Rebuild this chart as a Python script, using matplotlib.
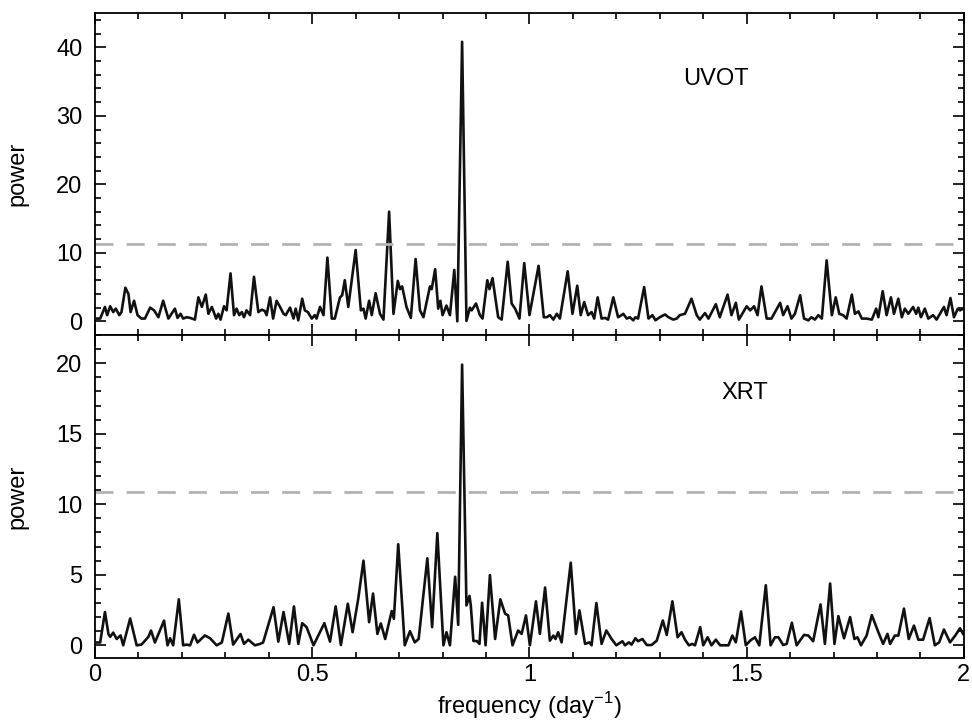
import numpy as np
import matplotlib
matplotlib.use('Agg')
import matplotlib.pyplot as plt

plt.rcParams['font.family'] = ['Liberation Sans', 'DejaVu Sans']
plt.rcParams['mathtext.fontset'] = 'custom'
plt.rcParams['mathtext.rm'] = 'Liberation Sans'

# UVOT periodogram (frequency in 1/day, power)
uvot_freq = [0.005, 0.012, 0.023, 0.028, 0.035, 0.042, 0.048, 0.056, 0.061, 0.070, 0.077, 0.082, 0.090, 0.098,
             0.107, 0.115, 0.127, 0.136, 0.146, 0.157, 0.169, 0.184, 0.190, 0.197, 0.203, 0.211, 0.219, 0.230,
             0.238, 0.246, 0.255, 0.261, 0.269, 0.279, 0.284, 0.289, 0.297, 0.303, 0.312, 0.320, 0.326, 0.332,
             0.338, 0.343, 0.349, 0.357, 0.366, 0.376, 0.384, 0.391, 0.395, 0.403, 0.410, 0.418, 0.426, 0.434,
             0.439, 0.449, 0.457, 0.462, 0.468, 0.477, 0.483, 0.490, 0.499, 0.506, 0.510, 0.518, 0.526, 0.535,
             0.545, 0.552, 0.564, 0.569, 0.575, 0.583, 0.600, 0.612, 0.618, 0.623, 0.631, 0.637, 0.646, 0.656,
             0.664, 0.677, 0.687, 0.697, 0.702, 0.707, 0.717, 0.727, 0.738, 0.748, 0.756, 0.771, 0.775, 0.783,
             0.790, 0.795, 0.800, 0.809, 0.817, 0.827, 0.834, 0.845, 0.855, 0.863, 0.867, 0.877, 0.886, 0.892,
             0.903, 0.908, 0.915, 0.928, 0.936, 0.950, 0.959, 0.967, 0.977, 0.988, 1.000, 1.021, 1.033, 1.040,
             1.047, 1.055, 1.063, 1.070, 1.088, 1.099, 1.110, 1.118, 1.126, 1.135, 1.143, 1.149, 1.157, 1.166,
             1.174, 1.181, 1.193, 1.204, 1.212, 1.216, 1.224, 1.231, 1.239, 1.244, 1.250, 1.264, 1.274, 1.283,
             1.290, 1.300, 1.312, 1.320, 1.331, 1.339, 1.346, 1.358, 1.373, 1.385, 1.392, 1.404, 1.412, 1.429,
             1.438, 1.456, 1.465, 1.475, 1.482, 1.500, 1.508, 1.517, 1.525, 1.534, 1.546, 1.557, 1.577, 1.584,
             1.594, 1.603, 1.611, 1.623, 1.632, 1.642, 1.649, 1.657, 1.665, 1.673, 1.684, 1.696, 1.705, 1.713,
             1.722, 1.730, 1.742, 1.749, 1.757, 1.765, 1.776, 1.788, 1.798, 1.803, 1.813, 1.822, 1.832, 1.839,
             1.849, 1.857, 1.864, 1.872, 1.883, 1.890, 1.895, 1.901, 1.910, 1.918, 1.929, 1.937, 1.954, 1.960,
             1.969, 1.977, 1.986, 1.991, 1.998]
uvot_power = [0.4, 0.4, 2.1, 0.9, 2.2, 1.35, 1.85, 0.9, 1.35, 4.9, 4.0, 1.35, 3.0, 0.9,
              0.4, 0.4, 2.0, 1.6, 0.6, 3.0, 0.4, 1.85, 0.5, 1.1, 0.4, 0.6, 0.5, 0.25,
              3.5, 2.1, 3.9, 1.1, 2.1, 0.4, 1.1, 0.25, 2.2, 1.6, 7.0, 0.9, 1.85, 0.9,
              1.35, 0.6, 1.6, 0.9, 6.5, 1.35, 1.7, 1.5, 0.9, 3.5, 0.4, 3.0, 2.1, 1.1,
              0.9, 2.0, 0.4, 1.85, 0.15, 3.3, 1.6, 1.35, 0.4, 0.9, 0.4, 2.1, 0.9, 9.3,
              0.4, 0.4, 3.5, 3.8, 6.0, 2.1, 10.4, 1.6, 1.85, 0.4, 3.0, 0.9, 4.1, 1.1,
              0.25, 16.0, 1.1, 5.9, 4.7, 5.1, 2.1, 0.5, 9.1, 1.6, 0.6, 5.1, 4.7, 7.6,
              1.85, 3.0, 0.9, 2.3, 0.9, 7.5, 0.0, 40.8, 0.05, 2.0, 1.6, 2.6, 0.9, 0.4,
              6.0, 4.7, 6.3, 0.6, 0.25, 8.7, 2.6, 1.85, 0.4, 8.5, 0.9, 8.1, 0.6, 0.6,
              0.9, 0.25, 1.1, 0.4, 7.3, 1.1, 5.2, 0.9, 2.8, 0.9, 1.35, 0.4, 3.5, 0.4,
              0.5, 0.25, 3.5, 0.6, 0.9, 1.1, 0.4, 0.6, 0.15, 0.6, 0.4, 5.0, 0.4, 0.9,
              0.15, 0.6, 1.0, 0.6, 0.25, 0.4, 0.9, 1.1, 3.3, 0.9, 0.25, 1.2, 0.4, 2.5,
              0.6, 3.9, 0.9, 2.7, 0.25, 2.2, 1.6, 2.2, 0.9, 5.1, 0.4, 0.4, 2.7, 0.9,
              2.2, 0.4, 1.1, 3.8, 0.4, 0.15, 0.6, 0.25, 0.9, 0.4, 8.9, 0.9, 3.5, 1.1,
              0.9, 0.4, 3.9, 1.1, 1.45, 0.4, 0.4, 0.25, 1.85, 0.6, 4.4, 0.9, 3.5, 1.1,
              3.3, 0.6, 1.85, 1.1, 2.1, 1.1, 2.0, 0.6, 1.85, 0.4, 0.9, 0.25, 2.1, 0.9,
              3.4, 0.6, 1.85, 1.6, 1.85]

# XRT periodogram
xrt_freq = [0.005, 0.012, 0.023, 0.031, 0.035, 0.042, 0.050, 0.059, 0.065, 0.081, 0.096, 0.107, 0.123, 0.129,
            0.138, 0.159, 0.167, 0.173, 0.180, 0.193, 0.203, 0.211, 0.219, 0.228, 0.236, 0.253, 0.265, 0.280,
            0.292, 0.307, 0.318, 0.335, 0.343, 0.353, 0.368, 0.380, 0.387, 0.411, 0.422, 0.434, 0.447, 0.458,
            0.468, 0.477, 0.487, 0.503, 0.528, 0.541, 0.554, 0.566, 0.582, 0.593, 0.606, 0.618, 0.631, 0.640,
            0.650, 0.658, 0.668, 0.683, 0.688, 0.698, 0.713, 0.725, 0.736, 0.745, 0.765, 0.776, 0.788, 0.802,
            0.809, 0.817, 0.829, 0.836, 0.845, 0.855, 0.862, 0.865, 0.871, 0.879, 0.885, 0.891, 0.899, 0.909,
            0.921, 0.933, 0.944, 0.951, 0.961, 0.974, 0.982, 0.992, 1.001, 1.015, 1.024, 1.036, 1.047, 1.055,
            1.060, 1.066, 1.074, 1.095, 1.107, 1.115, 1.128, 1.138, 1.143, 1.154, 1.166, 1.177, 1.189, 1.200,
            1.214, 1.220, 1.229, 1.235, 1.244, 1.250, 1.260, 1.270, 1.281, 1.293, 1.307, 1.316, 1.329, 1.341,
            1.350, 1.358, 1.367, 1.375, 1.381, 1.393, 1.400, 1.410, 1.419, 1.429, 1.439, 1.458, 1.467, 1.475,
            1.487, 1.498, 1.508, 1.519, 1.529, 1.544, 1.555, 1.565, 1.573, 1.584, 1.592, 1.604, 1.615, 1.632,
            1.642, 1.653, 1.670, 1.680, 1.692, 1.702, 1.711, 1.724, 1.738, 1.748, 1.755, 1.763, 1.776, 1.788,
            1.803, 1.814, 1.824, 1.830, 1.841, 1.849, 1.862, 1.873, 1.885, 1.895, 1.906, 1.921, 1.933, 1.943,
            1.954, 1.968, 1.980, 1.991, 1.998]
xrt_power = [0.2, 0.2, 2.36, 0.8, 0.6, 0.9, 0.45, 0.7, 0.0, 1.9, 0.0, 0.05, 0.6, 1.05,
             0.2, 1.75, 0.0, 0.5, 0.0, 3.26, 0.0, 0.05, 0.0, 0.75, 0.2, 0.7, 0.5, 0.0,
             0.2, 2.25, 0.05, 0.8, 0.1, 0.4, 0.0, 0.1, 0.2, 2.7, 0.26, 2.36, 0.1, 2.76,
             0.1, 1.57, 1.29, 0.0, 1.57, 0.26, 2.76, 0.02, 2.95, 0.93, 3.31, 6.0, 1.64, 3.67,
             0.81, 1.55, 0.45, 2.43, 1.88, 7.17, 0.0, 1.0, 0.21, 0.45, 6.17, 1.29, 7.95, 0.0,
             0.93, 0.0, 4.86, 1.45, 19.9, 2.83, 3.5, 2.83, 0.31, 0.3, 0.1, 3.02, 0.0, 4.98,
             0.45, 3.26, 2.24, 2.12, 0.0, 1.05, 0.81, 2.12, 0.0, 3.12, 0.81, 4.1, 0.33, 0.69,
             0.45, 0.93, 0.21, 5.86, 0.81, 2.48, 0.1, 0.21, 0.0, 3.0, 0.1, 1.05, 0.45, 0.0,
             0.29, 0.0, 0.21, 0.05, 0.5, 0.29, 0.45, 0.02, 0.02, 0.33, 1.76, 0.74, 3.12, 0.57,
             0.93, 0.4, 0.0, 0.1, 0.0, 1.29, 0.0, 0.57, 0.0, 0.4, 0.0, 0.0, 0.69, 0.21,
             2.4, 0.0, 0.33, 0.57, 0.0, 4.26, 0.0, 0.57, 0.57, 0.02, 0.1, 1.6, 0.0, 0.74,
             0.69, 0.29, 2.9, 0.1, 4.38, 0.1, 2.07, 0.5, 2.0, 0.45, 0.57, 0.0, 0.69, 2.14,
             0.93, 0.1, 0.81, 0.1, 0.69, 0.69, 2.6, 0.45, 1.4, 0.4, 0.4, 1.93, 0.0, 0.21,
             1.12, 0.21, 0.69, 1.21, 0.81]

uvot_level = 11.25
xrt_level = 10.85


def style(ax):
    for s in ax.spines.values():
        s.set_linewidth(1.3)
    ax.tick_params(which='both', direction='in', top=True, right=True, width=1.2, labelsize=17)
    ax.tick_params(which='major', length=8, pad=9)
    ax.tick_params(which='minor', length=4.5)
    ax.tick_params(axis='x', pad=4)
    ax.set_xlim(0, 2)
    ax.set_xticks([0, 0.5, 1, 1.5, 2])
    ax.set_xticks(np.arange(0, 2.01, 0.1), minor=True)
    ax.set_xticklabels(['0', '0.5', '1', '1.5', '2'])


fig = plt.figure(figsize=(9.72, 7.25), dpi=100)
ax1 = fig.add_axes([0.0977, 0.5379, 0.894, 0.4441])
ax2 = fig.add_axes([0.0977, 0.0924, 0.894, 0.4455])

ax1.plot(uvot_freq, uvot_power, c='#111111', lw=1.9, solid_joinstyle='round')
ax1.axhline(uvot_level, c='#b3b3b3', lw=2, dashes=(6.5, 4.7))
ax1.set_ylim(-2, 45)
ax1.set_yticks([0, 10, 20, 30, 40])
ax1.set_yticks(np.arange(-2, 45, 2), minor=True)
style(ax1)
ax1.tick_params(labelbottom=False)
ax1.set_ylabel('power', fontsize=17)
ax1.yaxis.set_label_coords(-0.077, 0.5)
ax1.text(1.353, 35.3, 'UVOT', fontsize=17, va='center', ha='left')

ax2.plot(xrt_freq, xrt_power, c='#111111', lw=1.9, solid_joinstyle='round')
ax2.axhline(xrt_level, c='#b3b3b3', lw=2, dashes=(6.5, 4.7))
ax2.set_ylim(-0.9, 22)
ax2.set_yticks([0, 5, 10, 15, 20])
ax2.set_yticks(np.arange(0, 22.1, 1), minor=True)
style(ax2)
ax2.set_ylabel('power', fontsize=17)
ax2.yaxis.set_label_coords(-0.077, 0.5)
ax2.set_xlabel(r'frequency (day$^{\mathregular{-1}}$)', fontsize=17)
ax2.xaxis.set_label_coords(0.5, -0.1)
ax2.text(1.443, 17.9, 'XRT', fontsize=17, va='center', ha='left')

fig.savefig('out.png', dpi=100)
